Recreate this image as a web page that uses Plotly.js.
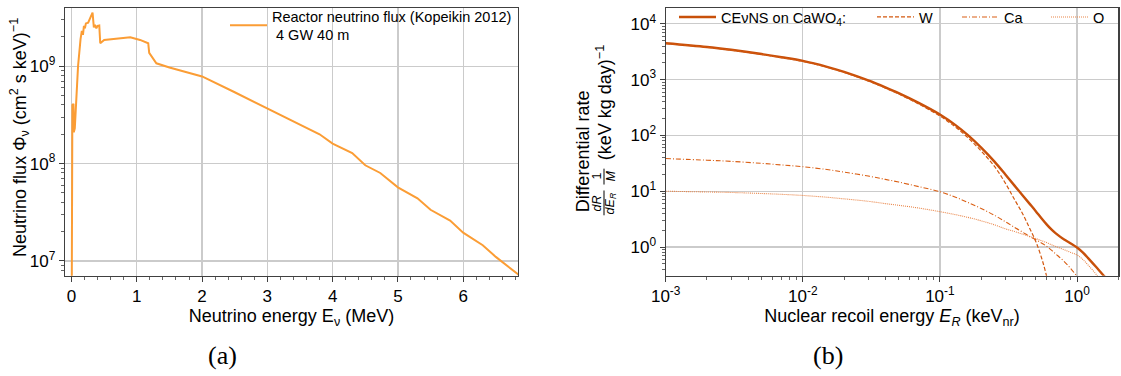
<!DOCTYPE html>
<html><head><meta charset="utf-8">
<script src="https://cdn.plot.ly/plotly-3.0.1.min.js"></script>
<style>html,body{margin:0;padding:0;background:#fff}#chart{width:1121px;height:376px}</style>
</head><body><div id="chart"></div><script>
// (a) reactor neutrino flux
const fluxEnergy = [0.0, 0.013, 0.03, 0.035, 0.05, 0.1, 0.138, 0.158, 0.175, 0.19, 0.205, 0.22, 0.255, 0.322, 0.342, 0.36, 0.38, 0.4, 0.425, 0.44, 0.5, 0.9, 1.05, 1.175, 1.19, 1.24, 1.3, 1.5, 2.0, 2.5, 3.0, 3.5, 3.8, 4.0, 4.3, 4.5, 4.73, 5.0, 5.3, 5.5, 5.8, 6.0, 6.3, 6.5, 6.85];
const fluxValue = [1e6, 4.0e8, 4.1e8, 2.1e8, 2.3e8, 1.0e9, 1.9e9, 2.3e9, 2.1e9, 2.6e9, 2.45e9, 2.75e9, 2.8e9, 3.55e9, 2.5e9, 2.65e9, 2.45e9, 2.6e9, 2.62e9, 1.72e9, 1.86e9, 1.98e9, 1.86e9, 1.72e9, 1.37e9, 1.23e9, 1.07e9, 9.7e8, 7.85e8, 5.4e8, 3.7e8, 2.5e8, 2.0e8, 1.6e8, 1.28e8, 9.6e7, 8.0e7, 5.7e7, 4.4e7, 3.35e7, 2.6e7, 1.95e7, 1.45e7, 1.1e7, 7.2e6];
const fluxLabel = 'Reactor neutrino flux (Kopeikin 2012)<br>\u00a04 GW 40 m';
const fluxXTicks = [0, 1, 2, 3, 4, 5, 6];
const fluxYTicks = [1e7, 1e8, 1e9];
const fluxYTickText = ['10<sup>7</sup>', '10<sup>8</sup>', '10<sup>9</sup>'];

// (b) CEvNS differential rate on CaWO4
const recoilEnergy = [0.001, 0.002, 0.003, 0.005, 0.007, 0.01, 0.015, 0.02, 0.03, 0.04, 0.05, 0.07, 0.1, 0.13, 0.16, 0.2, 0.25, 0.3, 0.35, 0.4, 0.45, 0.5, 0.55, 0.6, 0.65, 0.7, 0.8, 0.9, 1.0, 1.1, 1.2, 1.4, 1.6, 1.8, 2.0];
const rateTotal = [4500, 3855, 3427, 2877, 2526, 2168, 1700, 1380, 970, 728, 573, 383, 237, 153, 101, 60.5, 34, 20, 12.6, 8.5, 6.0, 4.39, 3.28, 2.55, 2.07, 1.76, 1.38, 1.16, 0.98, 0.80, 0.64, 0.42, 0.29, 0.22, 0.17];
const rateW = [4450, 3810, 3383, 2836, 2488, 2132, 1668, 1351, 945, 706, 553, 366, 223, 141, 91, 52.6, 27.8, 14, 7.1, 4.0, 2.2, 1.26, 0.65, 0.3, 0.12, 0.04, null, null, null, null, null, null, null, null, null];
const rateCa = [38.5, 36, 34.3, 31.6, 29.6, 27.5, 24.5, 22, 18.7, 16.3, 14.6, 12.1, 9.8, 7.8, 6.3, 4.9, 3.7, 2.85, 2.25, 1.85, 1.55, 1.35, 1.18, 1.03, 0.88, 0.75, 0.56, 0.41, 0.3, 0.23, 0.19, null, null, null, null];
const rateO = [10.0, 9.7, 9.5, 9.1, 8.8, 8.4, 7.8, 7.3, 6.6, 6.0, 5.6, 5.0, 4.3, 3.8, 3.4, 2.95, 2.5, 2.12, 1.9, 1.7, 1.55, 1.42, 1.3, 1.2, 1.1, 1.02, 0.9, 0.8, 0.72, 0.6, 0.48, 0.31, 0.2, null, null];
const seriesNames = ['CE\u03bdNS on CaWO<sub>4</sub>:', 'W', 'Ca', 'O'];
const recoilXTicks = [0.001, 0.01, 0.1, 1];
const recoilXTickText = ['10<sup>-3</sup>', '10<sup>-2</sup>', '10<sup>-1</sup>', '10<sup>0</sup>'];
const rateYTicks = [1, 10, 100, 1000, 10000];
const rateYTickText = ['10<sup>0</sup>', '10<sup>1</sup>', '10<sup>2</sup>', '10<sup>3</sup>', '10<sup>4</sup>'];
const captions = ['(a)', '(b)'];

// minor tick positions on log axes (2..9 in each decade)
function logMinor(dLo, dHi) {
  const out = [];
  for (let d = dLo; d <= dHi; d++) for (let k = 2; k <= 9; k++) out.push(k * Math.pow(10, d));
  return out;
}

const W = 1121, H = 376;
const px = v => v / W, py = v => 1 - v / H;
const SANS = 'Liberation Sans, Arial, sans-serif';
const SERIF = 'Liberation Serif, DejaVu Serif, serif';

const traces = [
  {x: fluxEnergy, y: fluxValue, type: 'scatter', mode: 'lines', name: fluxLabel,
   line: {color: '#fb9d35', width: 2}, xaxis: 'x', yaxis: 'y', legend: 'legend'},
  {x: recoilEnergy, y: rateTotal, type: 'scatter', mode: 'lines', name: seriesNames[0],
   line: {color: '#c8500a', width: 2.4, shape: 'spline', smoothing: 1}, xaxis: 'x2', yaxis: 'y2', legend: 'legend2'},
  {x: recoilEnergy, y: rateW, type: 'scatter', mode: 'lines', name: seriesNames[1],
   line: {color: '#d4580f', width: 1.2, dash: '4px,2px', shape: 'spline', smoothing: 1}, xaxis: 'x2', yaxis: 'y2', legend: 'legend3'},
  {x: recoilEnergy, y: rateCa, type: 'scatter', mode: 'lines', name: seriesNames[2],
   line: {color: '#da5f14', width: 1.1, dash: '5px,2px,1px,2px', shape: 'spline', smoothing: 1}, xaxis: 'x2', yaxis: 'y2', legend: 'legend4'},
  {x: recoilEnergy, y: rateO, type: 'scatter', mode: 'lines', name: seriesNames[3],
   line: {color: '#e98548', width: 1.1, dash: '1px,1px', shape: 'spline', smoothing: 1}, xaxis: 'x2', yaxis: 'y2', legend: 'legend5'}
];

const minorOf = vals => ({tickmode: 'array', tickvals: vals, ticks: 'outside', ticklen: 2.5, tickwidth: 0.8, tickcolor: '#404040', showgrid: false});
const ax = {
  showline: true, mirror: true, linecolor: '#404040', linewidth: 1.2,
  ticks: 'outside', ticklen: 5, tickwidth: 1, tickcolor: '#404040',
  showgrid: true, gridcolor: '#cbcbcb', gridwidth: 1.2, zeroline: false,
  tickfont: {family: SANS, size: 17, color: '#000'}, automargin: false
};
const titleFont = {family: SANS, size: 18, color: '#000'};
const smallFont = {family: SANS, size: 12.5, color: '#000'};
const legBase = {bgcolor: 'rgba(0,0,0,0)', borderwidth: 0, itemwidth: 37,
  font: {family: SANS, size: 14.5, color: '#000'}, xanchor: 'left', yanchor: 'top'};

const layout = {
  width: W, height: H, margin: {l: 0, r: 0, t: 0, b: 0},
  paper_bgcolor: '#fff', plot_bgcolor: '#fff', showlegend: true,
  xaxis: Object.assign({}, ax, {domain: [px(65), px(518)], range: [-0.1, 6.84],
    tickmode: 'array', tickvals: fluxXTicks,
    minor: {dtick: 0.2, tick0: 0, ticks: 'outside', ticklen: 2.5, tickwidth: 0.8, tickcolor: '#404040', showgrid: false},
    title: {text: 'Neutrino energy E<sub>\u03bd</sub> (MeV)', font: titleFont, standoff: 4}, anchor: 'y'}),
  yaxis: Object.assign({}, ax, {type: 'log', domain: [py(275), py(5)], range: [6.847, 9.598],
    tickmode: 'array', tickvals: fluxYTicks, ticktext: fluxYTickText, minor: minorOf(logMinor(6, 9)), anchor: 'x'}),
  xaxis2: Object.assign({}, ax, {type: 'log', domain: [px(665.7), px(1118.3)], range: [-3, 0.301],
    tickmode: 'array', tickvals: recoilXTicks, ticktext: recoilXTickText, minor: minorOf(logMinor(-3, 0)),
    title: {text: 'Nuclear recoil energy <i>E<sub>R</sub></i> (keV<sub>nr</sub>)', font: titleFont, standoff: 4}, anchor: 'y2'}),
  yaxis2: Object.assign({}, ax, {type: 'log', domain: [py(275), py(5)], range: [-0.516, 4.285],
    tickmode: 'array', tickvals: rateYTicks, ticktext: rateYTickText, minor: minorOf(logMinor(-1, 4)), anchor: 'x2'}),
  legend: Object.assign({}, legBase, {x: px(225), y: py(-3)}),
  legend2: Object.assign({}, legBase, {x: px(674), y: py(-2)}),
  legend3: Object.assign({}, legBase, {x: px(872), y: py(-2)}),
  legend4: Object.assign({}, legBase, {x: px(957), y: py(-2)}),
  legend5: Object.assign({}, legBase, {x: px(1046), y: py(-2)}),
  annotations: [
    {xref: 'paper', yref: 'paper', x: px(20), y: py(136), textangle: -90, showarrow: false,
     xanchor: 'center', yanchor: 'middle',
     text: 'Neutrino flux \u03a6<sub>\u03bd</sub> (cm<sup>2</sup> s keV)<sup>\u22121</sup>', font: titleFont},
    {xref: 'paper', yref: 'paper', x: px(583), y: py(213), textangle: -90, showarrow: false,
     xanchor: 'center', yanchor: 'bottom', text: 'Differential rate', font: titleFont},
    {xref: 'paper', yref: 'paper', x: px(604), y: py(161), textangle: -90, showarrow: false,
     xanchor: 'center', yanchor: 'bottom', text: '(keV kg day)<sup>\u22121</sup>', font: titleFont},
    {xref: 'paper', yref: 'paper', x: px(597), y: py(202), textangle: -90, showarrow: false,
     xanchor: 'center', yanchor: 'middle', text: '<i>dR</i>', font: smallFont},
    {xref: 'paper', yref: 'paper', x: px(611), y: py(202), textangle: -90, showarrow: false,
     xanchor: 'center', yanchor: 'middle', text: '<i>dE<sub>R</sub></i>', font: smallFont},
    {xref: 'paper', yref: 'paper', x: px(597), y: py(175), textangle: -90, showarrow: false,
     xanchor: 'center', yanchor: 'middle', text: '1', font: smallFont},
    {xref: 'paper', yref: 'paper', x: px(611), y: py(175), textangle: -90, showarrow: false,
     xanchor: 'center', yanchor: 'middle', text: '<i>M</i>', font: smallFont},
    {xref: 'paper', yref: 'paper', x: px(222), y: py(355), showarrow: false, xanchor: 'center', yanchor: 'middle',
     text: captions[0], font: {family: SERIF, size: 26, color: '#000'}},
    {xref: 'paper', yref: 'paper', x: px(828), y: py(355), showarrow: false, xanchor: 'center', yanchor: 'middle',
     text: captions[1], font: {family: SERIF, size: 26, color: '#000'}}
  ],
  shapes: [
    {type: 'line', xref: 'paper', yref: 'paper', x0: px(604), x1: px(604), y0: py(189), y1: py(214), line: {color: '#000', width: 1}},
    {type: 'line', xref: 'paper', yref: 'paper', x0: px(604), x1: px(604), y0: py(167), y1: py(183), line: {color: '#000', width: 1}}
  ]
};

Plotly.newPlot('chart', traces, layout, {displayModeBar: false, staticPlot: true});
</script></body></html>
